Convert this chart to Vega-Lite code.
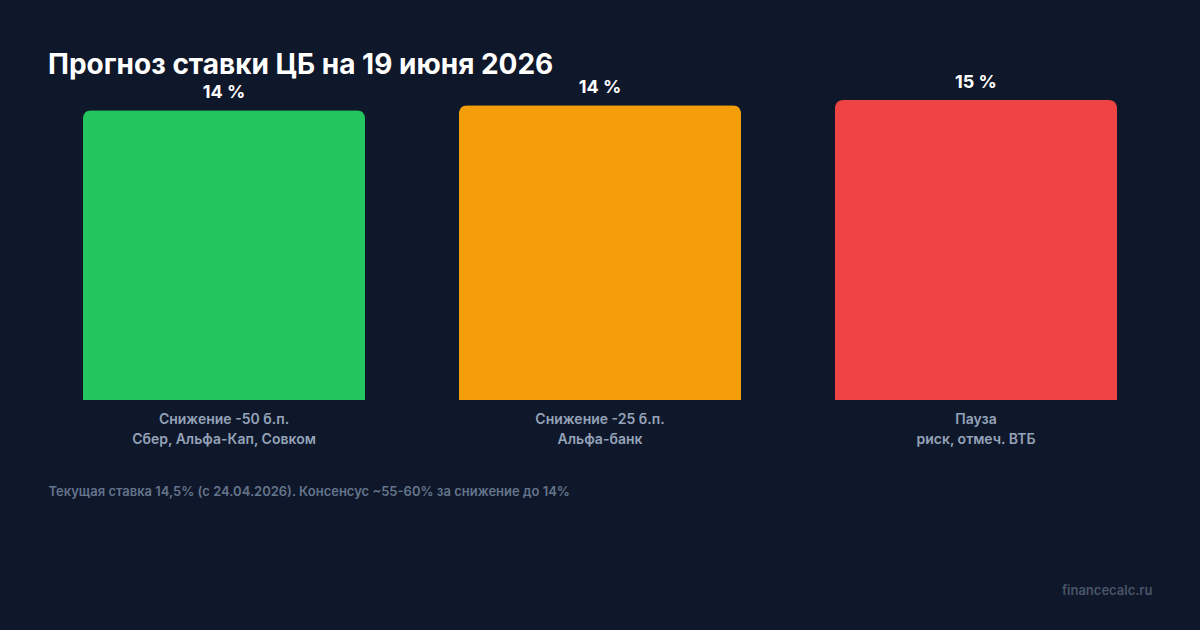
{
  "$schema": "https://vega.github.io/schema/vega-lite/v6.json",
  "autosize": "none",
  "width": 1128,
  "height": 300,
  "padding": {"left": 36, "top": 100, "right": 36, "bottom": 230},
  "background": "#0f172a",
  "title": {
    "text": "Прогноз ставки ЦБ на 19 июня 2026",
    "anchor": "start",
    "frame": "group",
    "font": "Inter",
    "fontSize": 28,
    "fontWeight": 700,
    "color": "#ffffff",
    "baseline": "alphabetic",
    "dx": 12,
    "dy": 60,
    "offset": 32
  },
  "config": {
    "view": {"stroke": null},
    "font": "Inter"
  },
  "data": {
    "values": [
      {"scenario": "Снижение -50 б.п.\nСбер, Альфа-Кап, Совком", "rate": 14.0, "lab": "14 %", "color": "#22c55e"},
      {"scenario": "Снижение -25 б.п.\nАльфа-банк", "rate": 14.25, "lab": "14 %", "color": "#f59e0b"},
      {"scenario": "Пауза\nриск, отмеч. ВТБ", "rate": 14.5, "lab": "15 %", "color": "#ef4444"}
    ]
  },
  "encoding": {
    "x": {
      "field": "scenario",
      "type": "nominal",
      "sort": null,
      "scale": {"paddingInner": 0.25, "paddingOuter": 0.125},
      "axis": {
        "orient": "bottom",
        "domain": false,
        "ticks": false,
        "grid": false,
        "labelAngle": 0,
        "labelExpr": "split(datum.label, '\\n')",
        "labelFont": "Inter",
        "labelFontSize": 14,
        "labelFontWeight": 600,
        "labelColor": "#94a3b8",
        "labelLineHeight": 20,
        "labelPadding": 12,
        "labelLimit": 0,
        "title": "Текущая ставка 14,5% (с 24.04.2026). Консенсус ~55-60% за снижение до 14%",
        "titleFont": "Inter",
        "titleFontSize": 13,
        "titleFontWeight": 600,
        "titleColor": "#64748b",
        "titleAnchor": "start",
        "titleAlign": "left",
        "titleBaseline": "middle",
        "titleX": 12,
        "titleY": 91
      }
    },
    "y": {
      "field": "rate",
      "type": "quantitative",
      "scale": {"domain": [0, 14.5], "nice": false, "zero": true},
      "axis": {
        "orient": "right",
        "domain": false,
        "ticks": false,
        "labels": false,
        "grid": false,
        "title": "financecalc.ru",
        "titleAngle": 0,
        "titleFont": "Inter",
        "titleFontSize": 13,
        "titleFontWeight": 600,
        "titleColor": "#475569",
        "titleAlign": "right",
        "titleBaseline": "middle",
        "titleX": -12,
        "titleY": 490
      }
    }
  },
  "layer": [
    {
      "mark": {"type": "bar", "cornerRadiusTopLeft": 8, "cornerRadiusTopRight": 8},
      "encoding": {
        "color": {"field": "color", "type": "nominal", "scale": null, "legend": null}
      }
    },
    {
      "mark": {"type": "text", "baseline": "bottom", "dy": -8, "fontSize": 18, "fontWeight": 700, "font": "Inter", "color": "#ffffff"},
      "encoding": {
        "text": {"field": "lab", "type": "nominal"}
      }
    }
  ]
}
